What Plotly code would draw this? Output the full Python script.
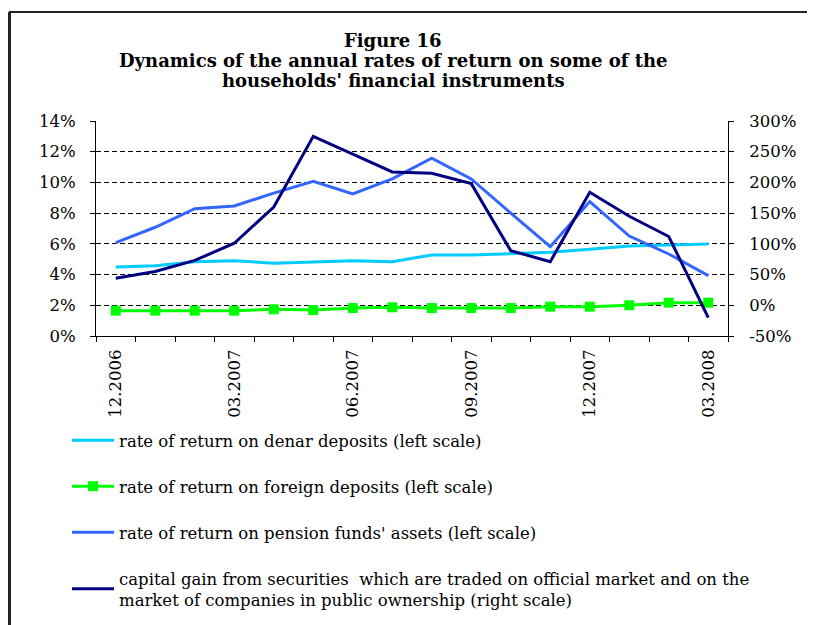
import plotly.graph_objects as go

months = ['12.2006', '01.2007', '02.2007', '03.2007', '04.2007', '05.2007',
          '06.2007', '07.2007', '08.2007', '09.2007', '10.2007', '11.2007',
          '12.2007', '01.2008', '02.2008', '03.2008']

denar = [4.50, 4.58, 4.84, 4.90, 4.74, 4.82, 4.90, 4.84,
         5.28, 5.28, 5.39, 5.45, 5.65, 5.86, 5.93, 5.99]
foreign = [1.65, 1.65, 1.65, 1.65, 1.74, 1.69, 1.82, 1.87,
           1.82, 1.82, 1.82, 1.91, 1.91, 2.00, 2.17, 2.17]
pension = [6.08, 7.08, 8.29, 8.47, 9.30, 10.08, 9.25, 10.23,
           11.58, 10.23, 8.00, 5.82, 8.75, 6.51, 5.34, 3.93]
capital = [44, 55, 73, 101, 160, 275, 246, 217,
           215, 198, 89, 71, 184, 145, 112, -20]

right_ticks = [-50, 0, 50, 100, 150, 200, 250, 300]

title_lines = ['Figure 16',
               'Dynamics of the annual rates of return on some of the',
               "households' financial instruments"]

x = list(range(len(months)))
tick_idx = x[::3]

SERIF = 'DejaVu Serif'

# page body has an 8px margin, so the figure is a bit smaller than the window
W, H = 807, 617
L, R, T, B = 88, 87, 113, 289
PW, PH = W - L - R, H - T - B

fig = go.Figure()
fig.add_trace(go.Scatter(
    x=x, y=denar, mode='lines', line=dict(color='#00CCFF', width=3),
    name='rate of return on denar deposits (left scale)', legendgroup='a',
))
fig.add_trace(go.Scatter(
    x=x, y=foreign, mode='lines+markers', line=dict(color='#00FF00', width=3),
    marker=dict(symbol='square', size=10, color='#00FF00'),
    name='rate of return on foreign deposits (left scale)', legendgroup='b',
))
fig.add_trace(go.Scatter(
    x=x, y=pension, mode='lines', line=dict(color='#3366FF', width=3),
    name="rate of return on pension funds' assets (left scale)", legendgroup='c',
))
fig.add_trace(go.Scatter(
    x=x, y=capital, mode='lines', line=dict(color='#000080', width=3),
    yaxis='y2', legendgroup='d',
    name='capital gain from securities  which are traded on official market and on the'
         '<br>market of companies in public ownership (right scale)',
))

# three title lines, set one by one to keep the tight line spacing
for i, line in enumerate(title_lines):
    fig.add_annotation(
        text=f'<b>{line}</b>', xref='paper', yref='paper',
        x=(385 - L) / PW, y=1 + (T - (32 + 20 * i)) / PH,
        xanchor='center', yanchor='middle', showarrow=False,
        font=dict(family=SERIF, size=18, color='black'),
    )

fig.update_layout(
    width=W, height=H,
    margin=dict(l=L, r=R, t=T, b=B, autoexpand=False),
    paper_bgcolor='white', plot_bgcolor='white',
    font=dict(family=SERIF, size=16.5, color='black'),
    xaxis=dict(
        range=[-0.5, len(months) - 0.5],
        tickvals=tick_idx, ticktext=[months[i] for i in tick_idx],
        tickangle=-90, ticks='', showgrid=False, zeroline=False,
        showline=True, linecolor='black', linewidth=1,
        minor=dict(tickvals=[i - 0.5 for i in range(len(months) + 1)],
                   ticks='outside', ticklen=5, tickcolor='black', showgrid=False),
        ticklabelstandoff=6, automargin=False,
    ),
    yaxis=dict(
        range=[0, 14], dtick=2, ticksuffix='%',
        showgrid=True, gridcolor='black', gridwidth=1, griddash='5px,3px',
        zeroline=False, showline=True, linecolor='black', linewidth=1,
        ticks='outside', ticklen=5, tickcolor='black',
        ticklabelstandoff=11, automargin=False,
    ),
    yaxis2=dict(
        range=[-50, 300], overlaying='y', side='right',
        tickvals=right_ticks, ticktext=[f'{v}%' for v in right_ticks],
        showgrid=False, zeroline=False, showline=True, linecolor='black', linewidth=1,
        ticks='outside', ticklen=5, tickcolor='black',
        ticklabelstandoff=12, automargin=False,
    ),
    showlegend=True,
    legend=dict(
        x=(59 - L) / PW, xanchor='left', y=-(415 - (T + PH)) / PH, yanchor='top',
        tracegroupgap=21.5, itemwidth=42, font=dict(family=SERIF, size=16.5),
        bgcolor='rgba(0,0,0,0)',
    ),
    shapes=[
        dict(type='line', xref='paper', yref='paper',
             x0=(1 - L) / PW, x1=1.3, y0=1 + (T - 4) / PH, y1=1 + (T - 4) / PH,
             line=dict(color='#222222', width=2)),
        dict(type='line', xref='paper', yref='paper',
             x0=(1.5 - L) / PW, x1=(1.5 - L) / PW, y0=1 + (T - 4) / PH, y1=-1.5,
             line=dict(color='#222222', width=3)),
    ],
)

fig.write_html('out.html')
